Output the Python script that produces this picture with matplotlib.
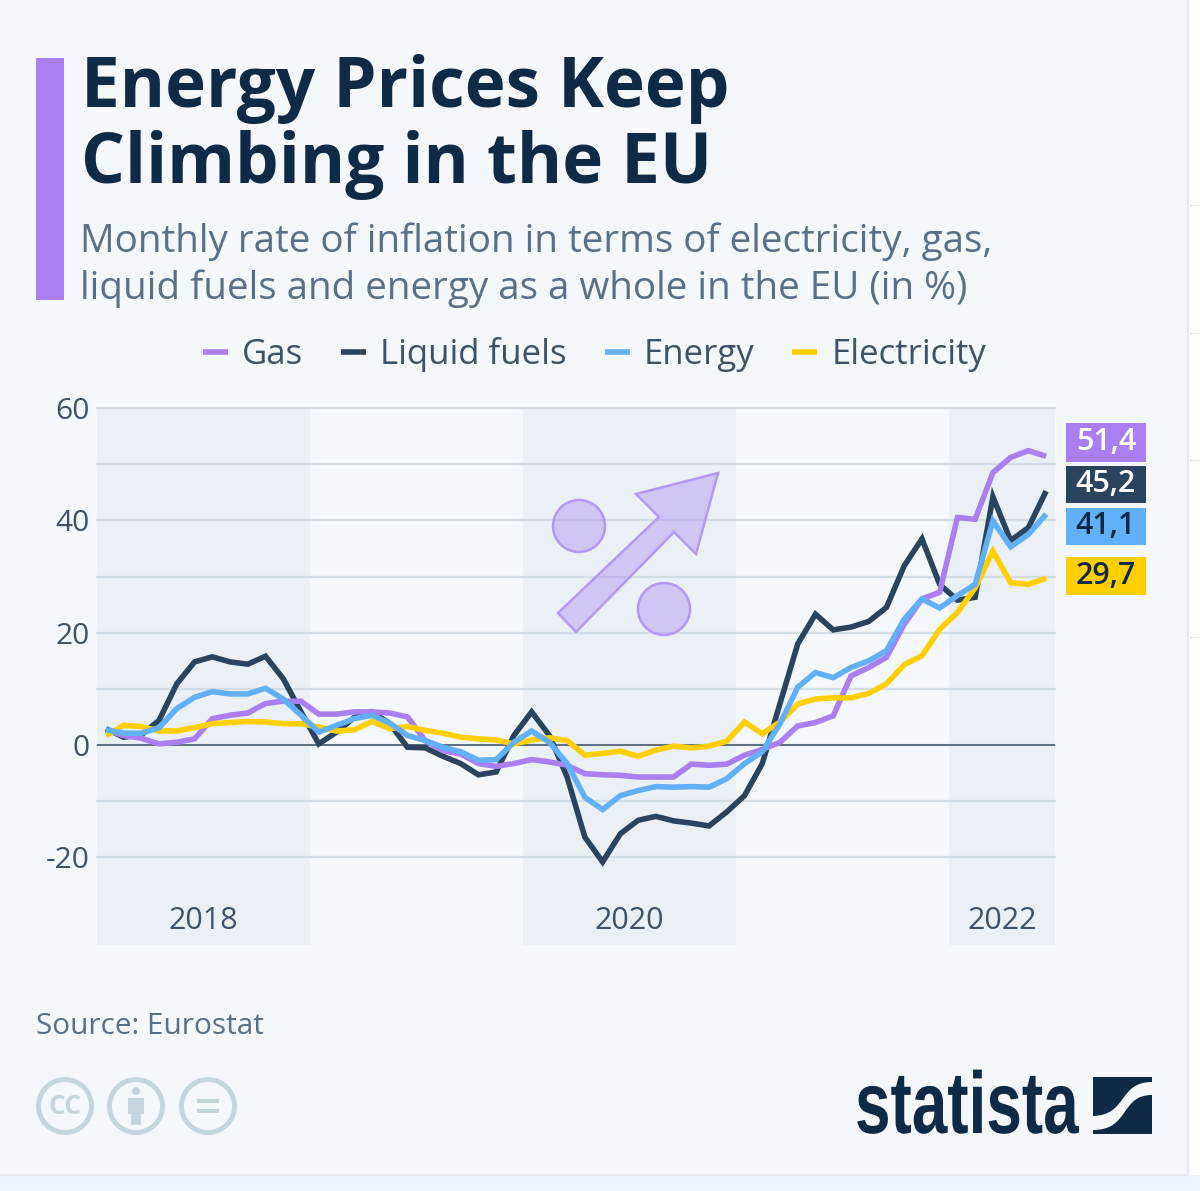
import numpy as np
import matplotlib
matplotlib.use('Agg')
from matplotlib import pyplot as plt
from matplotlib import patheffects
from matplotlib.patches import Circle, PathPatch, Polygon, Rectangle
from matplotlib.path import Path
from matplotlib.transforms import Affine2D

# Monthly values, Jan 2018 - Jun 2022
gas = [2.6, 1.7, 1.2, 0.2, 0.5, 1.1, 4.7, 5.3, 5.7, 7.4, 7.8, 7.8, 5.5, 5.5, 5.9, 5.9, 5.7, 5.0,
       0.8, -1.0, -1.6, -3.3, -3.8, -3.3, -2.6, -3.0, -3.6, -5.1, -5.3, -5.4, -5.7, -5.7, -5.7,
       -3.4, -3.6, -3.4, -1.8, -0.8, 0.5, 3.4, 4.0, 5.2, 12.3, 13.8, 15.6, 21.5, 26.0, 27.2,
       40.5, 40.2, 48.5, 51.2, 52.4, 51.4]
liquid_fuels = [2.9, 1.4, 1.8, 4.4, 10.9, 14.8, 15.7, 14.8, 14.4, 15.8, 11.8, 5.9, 0.2, 2.3, 4.9,
                5.9, 3.8, -0.4, -0.5, -2.0, -3.3, -5.3, -4.8, 1.7, 5.9, 1.7, -5.7, -16.4, -20.8,
                -15.8, -13.4, -12.7, -13.5, -13.9, -14.4, -11.9, -9.0, -3.3, 7.4, 18.0, 23.3,
                20.5, 21.0, 22.0, 24.5, 31.9, 36.7, 28.6, 25.8, 26.3, 44.2, 36.4, 38.7, 45.2]
energy = [2.7, 2.1, 2.1, 3.1, 6.5, 8.5, 9.5, 9.1, 9.1, 10.1, 8.2, 5.3, 2.3, 3.5, 4.7, 5.3, 3.9,
          1.7, 0.8, -0.4, -1.2, -2.7, -2.6, 0.5, 2.5, 0.5, -3.3, -9.3, -11.5, -9.0, -8.1, -7.4,
          -7.5, -7.4, -7.5, -6.0, -3.3, -1.2, 3.8, 10.3, 12.9, 12.0, 13.8, 15.0, 16.8, 22.4,
          26.0, 24.4, 26.6, 28.6, 39.9, 35.3, 37.5, 41.1]
electricity = [1.7, 3.5, 3.3, 2.5, 2.5, 3.1, 3.8, 4.0, 4.2, 4.1, 3.8, 3.8, 3.2, 2.5, 2.7, 4.2,
               2.9, 3.3, 2.6, 2.1, 1.4, 1.1, 0.9, 0.2, 0.9, 1.3, 0.8, -1.8, -1.5, -1.1, -2.0,
               -0.9, -0.2, -0.5, -0.2, 0.7, 4.1, 2.0, 4.1, 7.3, 8.2, 8.4, 8.4, 9.2, 10.9, 14.3,
               15.9, 20.6, 23.6, 28.0, 34.5, 28.9, 28.6, 29.7]

series_names = ['Gas', 'Liquid fuels', 'Energy', 'Electricity']
end_labels = ['51,4', '45,2', '41,1', '29,7']
years = ['2018', '2020', '2022']
year_spans = [(-0.5, 11.5), (23.5, 35.5), (47.5, 53.5)]
y_ticks = [-20, -10, 0, 10, 20, 30, 40, 50, 60]
y_tick_labels = ['-20', '', '0', '', '20', '', '40', '', '60']

PURPLE = '#a97ff2'
NAVY = '#0f2a47'
DARK = '#2a4460'
BLUE = '#62b0f7'
YELLOW = '#ffcf00'
CARD = '#f4f7fb'
SHADE = '#ebf0f7'
TEXT = '#3f5268'
SUB = '#5b7088'
SIZE = 21.5


class Narrow(patheffects.AbstractPathEffect):
    """Squeeze text horizontally, no condensed font is around for the logo."""

    def __init__(self, factor):
        super().__init__()
        self.factor = factor

    def draw_path(self, renderer, gc, tpath, affine, rgbFace=None):
        renderer.draw_path(gc, tpath, Affine2D().scale(self.factor, 1) + affine, rgbFace)


plt.rcParams['font.family'] = ['Open Sans', 'DejaVu Sans']

fig = plt.figure(figsize=(12, 11.91), dpi=100, facecolor='white')

# pixel coordinate layer for the page furniture
bg = fig.add_axes([0, 0, 1, 1], zorder=0)
bg.set_xlim(0, 1200)
bg.set_ylim(1191, 0)
bg.axis('off')
bg.add_patch(Rectangle((0, 1175), 1200, 16, color='#eef4fb', lw=0))
bg.add_patch(Rectangle((0, 0), 1188, 1175, color=CARD, lw=0))
bg.plot([1188, 1188], [0, 1175], color='#e8eaed', lw=1.5)
bg.plot([0, 1188], [1175, 1175], color='#e8eaed', lw=1.5)
for yy in [205, 333, 460, 637]:
    bg.plot([1190, 1200], [yy, yy], color='#e6e9ec', lw=1)
bg.add_patch(Rectangle((36, 58), 28, 242, color=PURPLE, lw=0))

bg.text(81, 89, 'Energy Prices Keep', fontsize=49.8, fontweight='bold', color=NAVY, va='center')
bg.text(81, 165, 'Climbing in the EU', fontsize=49.8, fontweight='bold', color=NAVY, va='center')
bg.text(80, 242, 'Monthly rate of inflation in terms of electricity, gas,', fontsize=27.8,
        color=SUB, va='center')
bg.text(80, 289, 'liquid fuels and energy as a whole in the EU (in %)', fontsize=27.8,
        color=SUB, va='center')
bg.text(36, 1026, 'Source: Eurostat', fontsize=21.4, color=SUB, va='center')

# licence icons
ICON = '#c6d4de'
for cx in [65, 136, 208]:
    bg.add_patch(Circle((cx, 1106), 26.5, fc='none', ec=ICON, lw=3.5))
bg.text(65, 1106, 'CC', fontsize=19, fontweight='bold', color=ICON, ha='center', va='center')
bg.add_patch(Circle((136, 1091), 4, color=ICON, lw=0))
bg.add_patch(Rectangle((128, 1098), 16, 16, color=ICON, lw=0))
bg.add_patch(Rectangle((131, 1112), 10, 13, color=ICON, lw=0))
bg.add_patch(Rectangle((197, 1099), 22, 4, color=ICON, lw=0))
bg.add_patch(Rectangle((197, 1109), 22, 4, color=ICON, lw=0))

# statista logo
bg.text(855, 1133, 'statista', fontsize=63, fontweight='bold', color=NAVY, va='baseline',
        family='Liberation Sans', path_effects=[Narrow(0.73)])
upper = Path([(1093, 1077), (1152, 1077), (1152, 1082), (1118, 1082), (1128, 1115), (1093, 1116),
              (1093, 1077)],
             [Path.MOVETO, Path.LINETO, Path.LINETO, Path.CURVE4, Path.CURVE4, Path.CURVE4,
              Path.CLOSEPOLY])
lower = Path([(1152, 1134), (1093, 1134), (1093, 1130), (1130, 1130), (1120, 1095), (1152, 1095),
              (1152, 1134)],
             [Path.MOVETO, Path.LINETO, Path.LINETO, Path.CURVE4, Path.CURVE4, Path.CURVE4,
              Path.CLOSEPOLY])
bg.add_patch(PathPatch(upper, fc=NAVY, lw=0))
bg.add_patch(PathPatch(lower, fc=NAVY, lw=0))

# chart, axes box is the plot area in the reference
ax = fig.add_axes([97 / 1200, 1 - 945 / 1191, 958 / 1200, 537 / 1191], zorder=1)
ax.patch.set_alpha(0)
ax.set_xlim(-0.5, 53.5)
ax.set_ylim(-35.6, 60)
for side in ax.spines.values():
    side.set_visible(False)
for (x0, x1), year in zip(year_spans, years):
    ax.axvspan(x0, x1, color=SHADE, lw=0, zorder=0)
    ax.text((x0 + x1) / 2, -31.4, year, fontsize=22, color=TEXT, ha='center', va='center')
ax.set_xticks([])
ax.set_yticks(y_ticks, y_tick_labels, fontsize=21.5, color=TEXT)
ax.tick_params(axis='y', length=0, pad=5)
ax.grid(axis='y', color='#d3dde6', lw=1.6, zorder=1, clip_on=False)
ax.set_axisbelow(True)
ax.axhline(0, color='#4a5d70', lw=1.2, zorder=2)

# percent sign with arrow behind the lines
arrow = [(558, 613), (576, 632), (674, 532), (696, 554), (718, 473), (636, 494), (659, 517)]
bg2 = fig.add_axes([0, 0, 1, 1], zorder=2)
bg2.set_xlim(0, 1200)
bg2.set_ylim(1191, 0)
bg2.axis('off')
mark = dict(fc=(0.66, 0.5, 0.95, 0.38), ec='#b598f3', lw=1.8)
bg2.add_patch(Polygon(arrow, closed=True, **mark))
bg2.add_patch(Circle((579, 526), 26, **mark))
bg2.add_patch(Circle((664, 609), 26, **mark))

ax3 = fig.add_axes(ax.get_position(), zorder=3, sharex=ax, sharey=ax)
ax3.patch.set_alpha(0)
ax3.axis('off')
months = np.arange(len(gas))
values = [gas, liquid_fuels, energy, electricity]
colors = [PURPLE, DARK, BLUE, YELLOW]
orders = [3, 2, 5, 4]
handles = []
for name, vals, col, order in zip(series_names, values, colors, orders):
    line, = ax3.plot(months, vals, color=col, lw=4.0, zorder=order, label=name,
                     solid_joinstyle='miter', solid_capstyle='butt')
    handles.append(line)

fig.legend(handles=handles, loc='center', bbox_to_anchor=(594.5 / 1200, 1 - 355 / 1191), ncol=4,
           frameon=False, fontsize=25, labelcolor=TEXT, handlelength=0.72,
           handletextpad=0.4, columnspacing=1.1, borderpad=0, borderaxespad=0)

# end labels
boxes = [(423, 39), (466, 37), (508, 37), (557, 38)]
text_colors = ['white', 'white', NAVY, NAVY]
for (top, height), label, col, tcol in zip(boxes, end_labels, colors, text_colors):
    bg.add_patch(Rectangle((1066, top), 80, height, color=col, lw=0))
    bg.text(1106, top + height / 2, label, fontsize=22, fontweight='semibold', color=tcol,
            ha='center', va='center', zorder=5)

fig.savefig('out.png', dpi=100)
